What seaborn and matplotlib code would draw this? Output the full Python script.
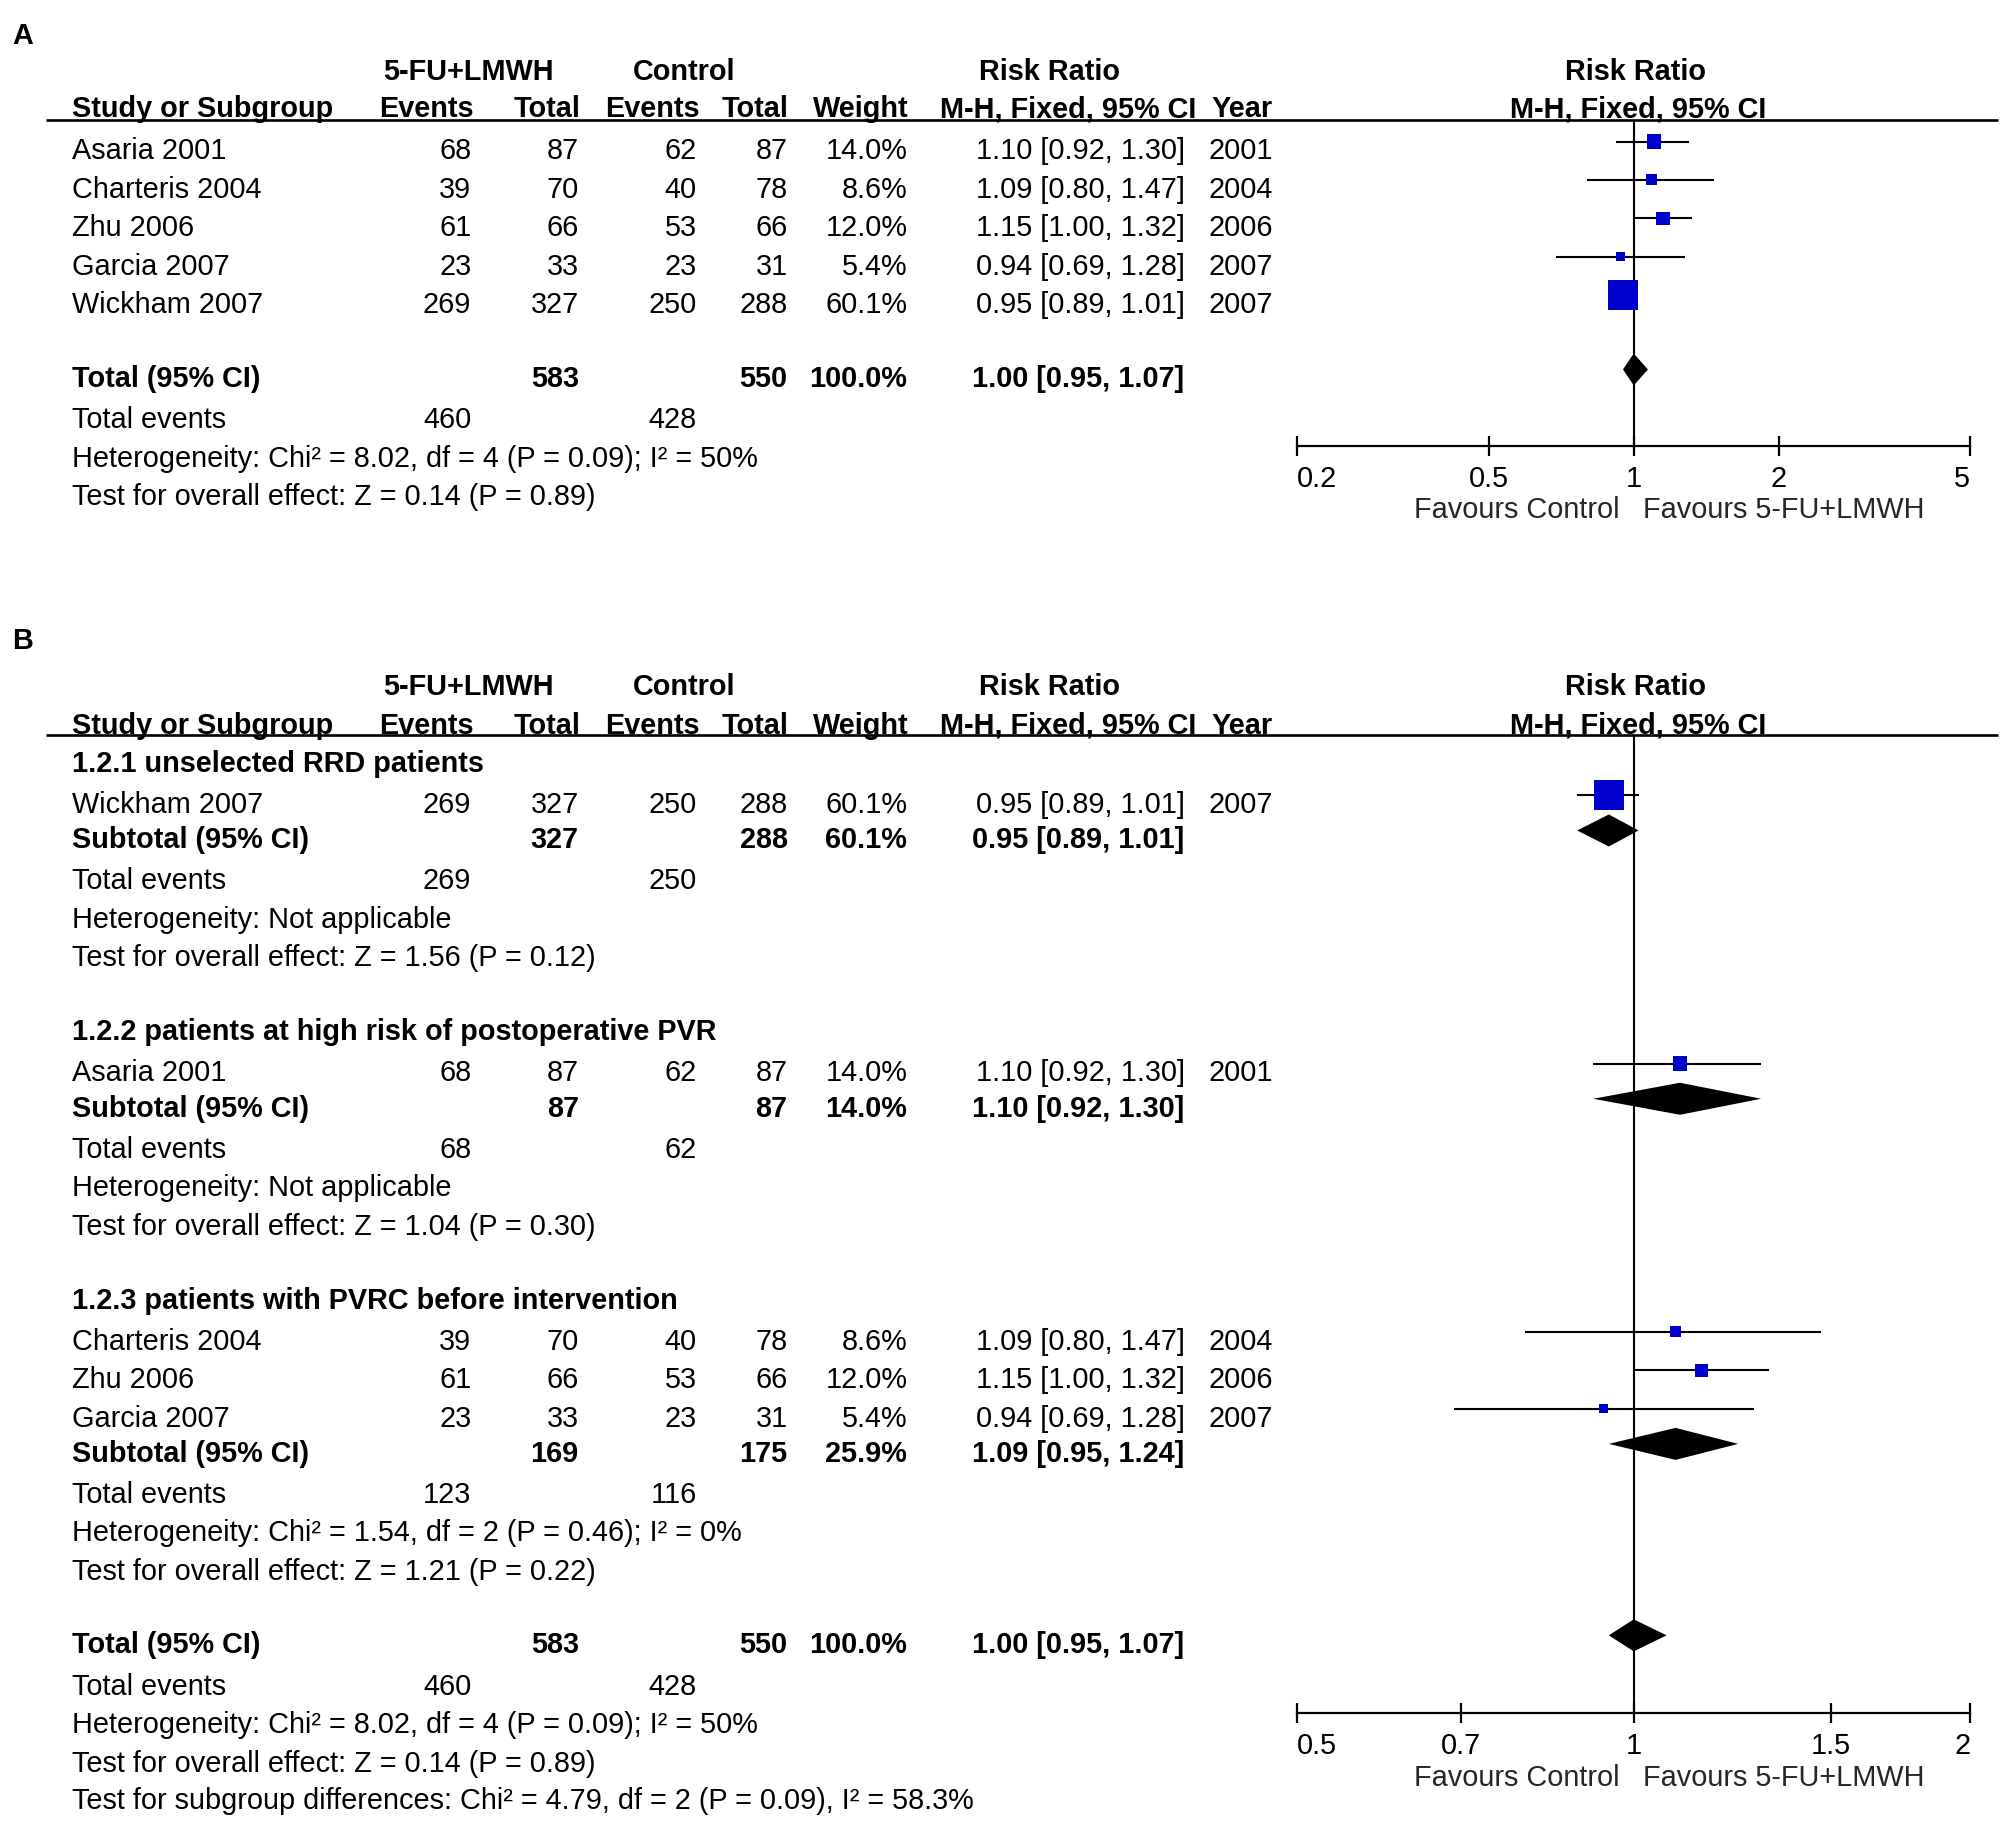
import matplotlib
matplotlib.use("Agg")
import matplotlib.pyplot as plt
import seaborn as sns
import pandas as pd
from matplotlib.ticker import NullLocator

# ------------------------------------------------------------------ data
studies = ["Asaria 2001", "Charteris 2004", "Zhu 2006", "Garcia 2007", "Wickham 2007"]
ev_trt = [68, 39, 61, 23, 269]
n_trt = [87, 70, 66, 33, 327]
ev_ctl = [62, 40, 53, 23, 250]
n_ctl = [87, 78, 66, 31, 288]
weights = [14.0, 8.6, 12.0, 5.4, 60.1]
rr = [1.10, 1.09, 1.15, 0.94, 0.95]
rr_lo = [0.92, 0.80, 1.00, 0.69, 0.89]
rr_hi = [1.30, 1.47, 1.32, 1.28, 1.01]
years = [2001, 2004, 2006, 2007, 2007]

total_n = [583, 550]
total_events = [460, 428]
total_weight = 100.0
total_rr = [1.00, 0.95, 1.07]
total_het = "Heterogeneity: Chi\u00b2 = 8.02, df = 4 (P = 0.09); I\u00b2 = 50%"
total_test = "Test for overall effect: Z = 0.14 (P = 0.89)"
subgroup_diff = "Test for subgroup differences: Chi\u00b2 = 4.79, df = 2 (P = 0.09), I\u00b2 = 58.3%"

sub_names = ["1.2.1 unselected RRD patients",
             "1.2.2 patients at high risk of postoperative PVR",
             "1.2.3 patients with PVRC before intervention"]
sub_members = [[4], [0], [1, 2, 3]]
sub_n_trt = [327, 87, 169]
sub_n_ctl = [288, 87, 175]
sub_weight = [60.1, 14.0, 25.9]
sub_rr = [0.95, 1.10, 1.09]
sub_lo = [0.89, 0.92, 0.95]
sub_hi = [1.01, 1.30, 1.24]
sub_ev_trt = [269, 68, 123]
sub_ev_ctl = [250, 62, 116]
sub_het = ["Heterogeneity: Not applicable",
           "Heterogeneity: Not applicable",
           "Heterogeneity: Chi\u00b2 = 1.54, df = 2 (P = 0.46); I\u00b2 = 0%"]
sub_test = ["Test for overall effect: Z = 1.56 (P = 0.12)",
            "Test for overall effect: Z = 1.04 (P = 0.30)",
            "Test for overall effect: Z = 1.21 (P = 0.22)"]

ticks_a = [0.2, 0.5, 1, 2, 5]
ticks_b = [0.5, 0.7, 1, 1.5, 2]
fav_left = "Favours Control"
fav_right = "Favours 5-FU+LMWH"

# ------------------------------------------------------------------ style
sns.set_style("white")
plt.rcParams["font.family"] = ["Liberation Sans", "DejaVu Sans"]
FS = 20.8
BLUE = "#0000CC"

W_D = 1568.0
H_D = 1822.0 * W_D / 2008.0

fig = plt.figure(figsize=(20.08, 18.22), dpi=100)
canvas = fig.add_axes([0, 0, 1, 1])
canvas.set_xlim(0, W_D)
canvas.set_ylim(H_D, 0)
canvas.axis("off")

BASE = 8.0  # centre -> baseline offset (display units)


def T(x, y, s, ha="left", bold=False, size=FS):
    canvas.text(x, y + BASE, s, ha=ha, va="baseline", fontsize=size,
                fontweight="bold" if bold else "normal", color="black")


# columns (display units)
X_NAME = 56
X_EV1, X_TOT1, X_EV2, X_TOT2, X_W = 368, 452, 544, 615, 708.5
X_RR, X_YEAR = 925, 944
X_AX0, X_AX1 = 1013, 1538.5


def header(y1, y2, line_y):
    T(366, y1, "5-FU+LMWH", ha="center", bold=True)
    T(534, y1, "Control", ha="center", bold=True)
    T(819.5, y1, "Risk Ratio", ha="center", bold=True)
    T(1277, y1, "Risk Ratio", ha="center", bold=True)
    T(X_NAME, y2, "Study or Subgroup", bold=True)
    T(X_EV1 + 2, y2, "Events", ha="right", bold=True)
    T(X_TOT1 + 1, y2, "Total", ha="right", bold=True)
    T(X_EV2 + 2, y2, "Events", ha="right", bold=True)
    T(X_TOT2 + 1, y2, "Total", ha="right", bold=True)
    T(X_W + 1, y2, "Weight", ha="right", bold=True)
    T(934, y2, "M-H, Fixed, 95% CI", ha="right", bold=True)
    T(946, y2, "Year", bold=True)
    T(1279, y2, "M-H, Fixed, 95% CI", ha="center", bold=True)
    canvas.hlines(line_y, 36, 1560, color="black", lw=1.9)


def study_row(i, y):
    T(X_NAME, y, studies[i])
    T(X_EV1, y, str(ev_trt[i]), ha="right")
    T(X_TOT1, y, str(n_trt[i]), ha="right")
    T(X_EV2, y, str(ev_ctl[i]), ha="right")
    T(X_TOT2, y, str(n_ctl[i]), ha="right")
    T(X_W, y, f"{weights[i]:.1f}%", ha="right")
    T(X_RR, y, f"{rr[i]:.2f} [{rr_lo[i]:.2f}, {rr_hi[i]:.2f}]", ha="right")
    T(X_YEAR, y, str(years[i]))


def pooled_row(label, y, n1, n2, w, est, lo, hi):
    T(X_NAME, y, label, bold=True)
    T(X_TOT1, y, str(n1), ha="right", bold=True)
    T(X_TOT2, y, str(n2), ha="right", bold=True)
    T(X_W, y, f"{w:.1f}%", ha="right", bold=True)
    T(X_RR, y, f"{est:.2f} [{lo:.2f}, {hi:.2f}]", ha="right", bold=True)


def events_row(y, e1, e2):
    T(X_NAME, y, "Total events")
    T(X_EV1, y, str(e1), ha="right")
    T(X_EV2, y, str(e2), ha="right")


def make_forest(top, bottom, xlo, xhi, ticks):
    ax = fig.add_axes([X_AX0 / W_D, 1 - bottom / H_D,
                       (X_AX1 - X_AX0) / W_D, (bottom - top) / H_D])
    ax.set_xscale("log")
    ax.set_xlim(xlo, xhi)
    ax.set_ylim(bottom, top)
    ax.patch.set_alpha(0)
    for s in ["top", "left", "right"]:
        ax.spines[s].set_visible(False)
    ax.spines["bottom"].set_linewidth(1.6)
    ax.spines["bottom"].set_color("black")
    ax.set_xticks(ticks)
    ax.set_xticklabels([f"{t:g}" for t in ticks])
    ax.xaxis.set_minor_locator(NullLocator())
    ax.tick_params(axis="x", which="major", bottom=True, direction="inout",
                   length=13.8, width=1.6, pad=6.8, labelsize=FS,
                   colors="black")
    ax.set_yticks([])
    ax.axvline(1, color="black", lw=1.5, zorder=1)
    ax.annotate(fav_left, xy=(1, 0), xycoords=("data", "axes fraction"),
                xytext=(-10.5, -46.5), textcoords="offset points",
                ha="right", va="center", fontsize=FS)
    ax.annotate(fav_right, xy=(1, 0), xycoords=("data", "axes fraction"),
                xytext=(7, -46.5), textcoords="offset points",
                ha="left", va="center", fontsize=FS)
    return ax


def finish_forest(ax, ticks, top, bottom):
    ax.set_xlim(ticks[0], ticks[-1])
    ax.set_ylim(bottom, top)
    ax.set_xlabel("")
    ax.set_ylabel("")
    labs = ax.get_xticklabels()
    labs[0].set_ha("left")
    labs[-1].set_ha("right")


def draw_studies(ax, idx, ys):
    df = pd.DataFrame({"rr": [rr[i] for i in idx], "lo": [rr_lo[i] for i in idx],
                       "hi": [rr_hi[i] for i in idx], "w": [weights[i] for i in idx],
                       "y": ys})
    ax.hlines(df["y"], df["lo"], df["hi"], color="black", lw=1.5, zorder=2)
    sns.scatterplot(data=df, x="rr", y="y", size="w", sizes=(40, 455),
                    size_norm=(5.4, 60.1), marker="s", color=BLUE,
                    edgecolor="none", linewidth=0, legend=False, ax=ax,
                    zorder=3, clip_on=False)


def diamond(ax, est, lo, hi, y, h=12.5):
    ax.fill([lo, est, hi, est], [y, y - h, y, y + h], color="black",
            lw=0, zorder=4, clip_on=False)


MK = 6.0  # marker offset above text centre

# ------------------------------------------------------------------ panel A
T(18, 26, "A", ha="center", bold=True)
header(54.7, 83.6, 94)
ys_a = [116.5 + 30 * i for i in range(len(studies))]
for i, y in enumerate(ys_a):
    study_row(i, y)
pooled_row("Total (95% CI)", 294.5, total_n[0], total_n[1], total_weight, *total_rr)
events_row(326, *total_events)
T(X_NAME, 357, total_het)
T(X_NAME, 386.5, total_test)

axA = make_forest(94, 348, ticks_a[0], ticks_a[-1], ticks_a)
draw_studies(axA, list(range(len(studies))), [y - MK for y in ys_a])
diamond(axA, total_rr[0], total_rr[1], total_rr[2], 294.5 - MK)
finish_forest(axA, ticks_a, 94, 348)

# ------------------------------------------------------------------ panel B
T(18, 499, "B", ha="center", bold=True)
header(535, 565, 574)
axB = make_forest(574, 1337.6, ticks_b[0], ticks_b[-1], ticks_b)

cur = 595.0
for g in range(len(sub_names)):
    T(X_NAME, cur, sub_names[g], bold=True)
    cur += 32
    ys = []
    for k, i in enumerate(sub_members[g]):
        if k > 0:
            cur += 30
        study_row(i, cur)
        ys.append(cur - MK)
    draw_studies(axB, sub_members[g], ys)
    cur += 27.5
    pooled_row("Subtotal (95% CI)", cur, sub_n_trt[g], sub_n_ctl[g],
               sub_weight[g], sub_rr[g], sub_lo[g], sub_hi[g])
    diamond(axB, sub_rr[g], sub_lo[g], sub_hi[g], cur - MK)
    cur += 32
    events_row(cur, sub_ev_trt[g], sub_ev_ctl[g])
    cur += 30
    T(X_NAME, cur, sub_het[g])
    cur += 30
    T(X_NAME, cur, sub_test[g])
    if g < len(sub_names) - 1:
        cur += 58

cur += 57.5
pooled_row("Total (95% CI)", cur, total_n[0], total_n[1], total_weight, *total_rr)
diamond(axB, total_rr[0], total_rr[1], total_rr[2], cur - MK)
cur += 32.5
events_row(cur, *total_events)
cur += 30
T(X_NAME, cur, total_het)
cur += 30
T(X_NAME, cur, total_test)
cur += 29
T(X_NAME, cur, subgroup_diff)

finish_forest(axB, ticks_b, 574, 1337.6)

fig.savefig("out.png", dpi=100)
